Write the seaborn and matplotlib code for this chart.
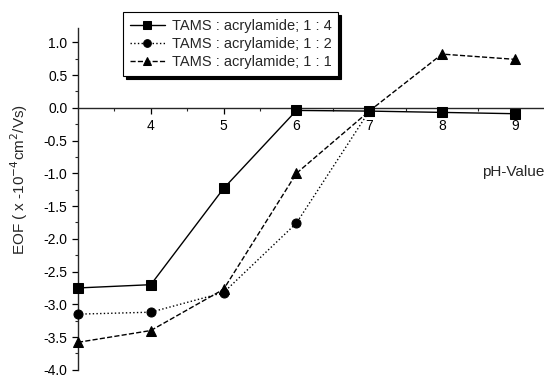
import matplotlib
matplotlib.use("Agg")
import matplotlib.pyplot as plt
from matplotlib.ticker import MultipleLocator, FixedLocator
import seaborn as sns
import pandas as pd

# EOF versus pH for three TAMS : acrylamide ratios
ph = [3, 4, 5, 6, 7, 8, 9]
eof_1_4 = [-2.75, -2.70, -1.23, -0.04, -0.05, -0.07, -0.09]
ph_1_2 = [3, 4, 5, 6, 7]
eof_1_2 = [-3.15, -3.12, -2.82, -1.76, -0.05]
eof_1_1 = [-3.58, -3.40, -2.77, -1.00, -0.05, 0.82, 0.74]

labels = ["TAMS : acrylamide; 1 : 4",
          "TAMS : acrylamide; 1 : 2",
          "TAMS : acrylamide; 1 : 1"]
x_ticks = [4, 5, 6, 7, 8, 9]

sns.set_style("ticks")
plt.rcParams["font.family"] = ["Liberation Sans", "DejaVu Sans"]

fig = plt.figure(figsize=(5.44, 3.77), dpi=100)
ax = fig.add_axes([0.1434, 0.019, 0.8566, 0.907])

series = [
    (ph, eof_1_4, labels[0], "s", "-"),
    (ph_1_2, eof_1_2, labels[1], "o", ":"),
    (ph, eof_1_1, labels[2], "^", "--"),
]
for xs, ys, lab, mk, ls in series:
    df = pd.DataFrame({"pH": xs, "EOF": ys})
    sns.lineplot(data=df, x="pH", y="EOF", ax=ax, color="black",
                 marker=mk, markersize=6.5, markeredgecolor="black",
                 linestyle=ls, linewidth=1.0, label=lab, clip_on=False,
                 zorder=3)

ax.set_xlim(3, 9.4)
ax.set_ylim(-4.0, 1.22)

ax.spines["top"].set_visible(False)
ax.spines["right"].set_visible(False)
ax.spines["left"].set_position(("data", 3))
ax.spines["bottom"].set_position(("data", 0))
ax.spines["left"].set_linewidth(1.0)
ax.spines["bottom"].set_linewidth(1.0)

ax.xaxis.set_major_locator(FixedLocator(x_ticks))
ax.xaxis.set_minor_locator(FixedLocator([3.5, 4.5, 5.5, 6.5, 7.5, 8.5]))
ax.yaxis.set_major_locator(MultipleLocator(0.5))
ax.yaxis.set_minor_locator(MultipleLocator(0.25))
ax.yaxis.set_major_formatter(plt.FuncFormatter(lambda v, p: f"{v:.1f}"))

ax.tick_params(axis="both", which="major", direction="out", length=4,
               width=0.9, labelsize=10, colors="black")
ax.tick_params(axis="both", which="minor", direction="out", length=2.5,
               width=0.8)
ax.tick_params(axis="x", pad=4)

ax.set_xlabel("")
ax.set_ylabel("")
fig.text(0.036, 0.525, "EOF ( x -10$^{-4}$cm$^{2}$/Vs)", rotation=90,
         ha="center", va="center", fontsize=11)
fig.text(1.0, 0.545, "pH-Value", ha="right", va="center", fontsize=11)

leg = ax.legend(loc="upper left", bbox_to_anchor=(0.226, 0.968),
                bbox_transform=fig.transFigure, fontsize=10.5,
                frameon=True, fancybox=False,
                shadow={"color": "black", "alpha": 1.0},
                handlelength=2.4, handletextpad=0.5, borderpad=0.45,
                labelspacing=0.3, borderaxespad=0, markerscale=0.85)
leg.get_frame().set_edgecolor("black")
leg.get_frame().set_linewidth(0.8)

fig.savefig("out.png", dpi=100)
